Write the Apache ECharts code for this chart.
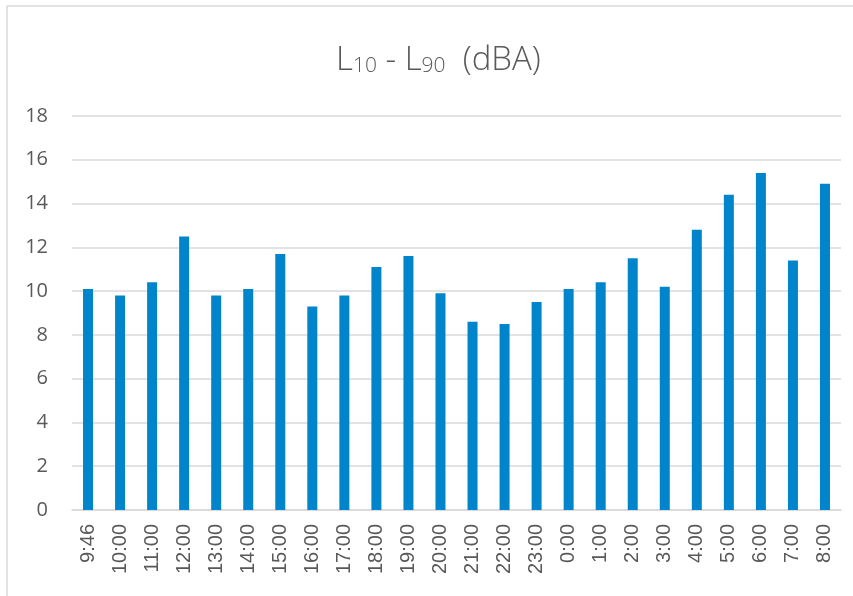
<!DOCTYPE html>
<html>
<head>
<meta charset="utf-8">
<script src="https://cdn.jsdelivr.net/npm/echarts@6/dist/echarts.min.js"></script>
<style>
  html, body { margin: 0; padding: 0; background: #fff; }
  #chart { width: 853px; height: 596px; }
</style>
</head>
<body>
<div id="chart"></div>
<script>
// 时间点
var hours = ['9:46', '10:00', '11:00', '12:00', '13:00', '14:00', '15:00', '16:00',
    '17:00', '18:00', '19:00', '20:00', '21:00', '22:00', '23:00', '0:00',
    '1:00', '2:00', '3:00', '4:00', '5:00', '6:00', '7:00', '8:00'];
// L10 - L90 数值
var diffValues = [10.1, 9.8, 10.4, 12.5, 9.8, 10.1, 11.7, 9.3,
    9.8, 11.1, 11.6, 9.9, 8.6, 8.5, 9.5, 10.1,
    10.4, 11.5, 10.2, 12.8, 14.4, 15.4, 11.4, 14.9];
// y轴刻度
var yMin = 0;
var yMax = 18;
var yStep = 2;

;(function(){
    var barChart = echarts.init(document.getElementById('chart'));
    var option = {
        animation: false,
        color: ['#0085cc'],
        graphic: [{
            type: 'rect',
            shape: { x: 7, y: 6, width: 900, height: 700 },
            style: { fill: 'none', stroke: '#d9d9d9', lineWidth: 1.5 },
            silent: true
        }],
        title: {
            text: '{m|L}{s|10}{m| - L}{s|90}{m|  (dBA)}',
            left: 331,
            top: 39,
            textStyle: {
                rich: {
                    m: { fontFamily: 'Open Sans', fontSize: 33, color: '#595959', fontWeight: 300 },
                    s: { fontFamily: 'Open Sans', fontSize: 21, color: '#595959', fontWeight: 300, verticalAlign: 'bottom', padding: [10, 0, 0, 0] }
                }
            }
        },
        grid: {
            top: 116,
            bottom: 86,
            left: 72,
            right: 12
        },
        xAxis: {
            type: 'category',
            data: hours,
            axisLine: { lineStyle: { color: '#d9d9d9', width: 1.5 } },
            axisTick: { show: false },
            axisLabel: {
                rotate: 90,
                interval: 0,
                margin: 14,
                color: '#595959',
                fontFamily: 'Liberation Sans',
                fontSize: 20
            }
        },
        yAxis: {
            type: 'value',
            min: yMin,
            max: yMax,
            interval: yStep,
            axisLine: { show: false },
            axisTick: { show: false },
            axisLabel: {
                margin: 24,
                color: '#595959',
                fontFamily: 'Open Sans',
                fontSize: 20
            },
            splitLine: {
                lineStyle: { color: '#d9d9d9', width: 1.5 }
            }
        },
        series: [{
            name: 'L10 - L90',
            type: 'bar',
            data: diffValues,
            barWidth: 10
        }]
    };
    barChart.setOption(option);
})()
</script>
</body>
</html>
